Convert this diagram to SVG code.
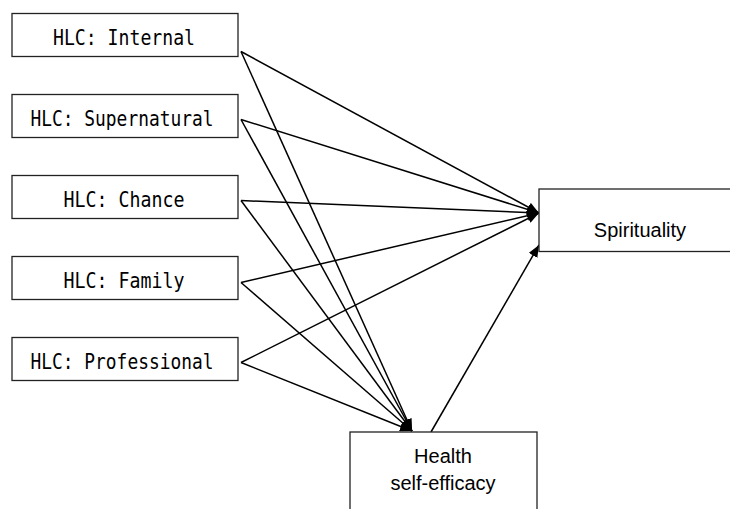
<svg xmlns="http://www.w3.org/2000/svg" width="730" height="509" viewBox="0 0 730 509">
<defs>
<marker id="ah" viewBox="0 0 12 10" refX="12" refY="5" markerWidth="12" markerHeight="10" markerUnits="userSpaceOnUse" orient="auto">
<path d="M0,0 L12,5 L0,10 z" fill="#000"/>
</marker>
<style>
.box{fill:#fff;stroke:#222;stroke-width:1.3}
.hlc{font-family:"DejaVu Sans Mono","Liberation Mono",monospace;font-size:22px;fill:#000;text-anchor:middle}
.lbl{font-family:"Liberation Sans",Arial,sans-serif;font-size:20px;fill:#000;text-anchor:middle}
.edge{stroke:#000;stroke-width:1.5;fill:none;marker-end:url(#ah)}
</style>
</defs>
<rect width="730" height="509" fill="#fff"/>
<g id="edges">
<line class="edge" x1="241" y1="51.5" x2="539" y2="213"/>
<line class="edge" x1="241" y1="51.5" x2="412" y2="431"/>
<line class="edge" x1="241" y1="119.5" x2="539" y2="213"/>
<line class="edge" x1="241" y1="119.5" x2="412" y2="431"/>
<line class="edge" x1="241" y1="200.5" x2="539" y2="213"/>
<line class="edge" x1="241" y1="200.5" x2="412" y2="431"/>
<line class="edge" x1="241" y1="282.5" x2="539" y2="213"/>
<line class="edge" x1="241" y1="282.5" x2="412" y2="431"/>
<line class="edge" x1="241" y1="362.5" x2="539" y2="213"/>
<line class="edge" x1="241" y1="362.5" x2="412" y2="431"/>
<line class="edge" x1="431" y1="432" x2="539" y2="245"/>
</g>
<g id="hlc-internal">
<rect class="box" x="12" y="13.5" width="226" height="43"/>
<text class="hlc" x="124" y="44.5" textLength="142" lengthAdjust="spacingAndGlyphs">HLC: Internal</text>
</g>
<g id="hlc-supernatural">
<rect class="box" x="12" y="94.5" width="226" height="43"/>
<text class="hlc" x="122" y="125.5" textLength="183" lengthAdjust="spacingAndGlyphs">HLC: Supernatural</text>
</g>
<g id="hlc-chance">
<rect class="box" x="12" y="175.5" width="226" height="43"/>
<text class="hlc" x="124" y="206.5" textLength="121" lengthAdjust="spacingAndGlyphs">HLC: Chance</text>
</g>
<g id="hlc-family">
<rect class="box" x="12" y="256.5" width="226" height="43"/>
<text class="hlc" x="124" y="287.5" textLength="121" lengthAdjust="spacingAndGlyphs">HLC: Family</text>
</g>
<g id="hlc-professional">
<rect class="box" x="12" y="337.5" width="226" height="43"/>
<text class="hlc" x="122" y="368.5" textLength="183" lengthAdjust="spacingAndGlyphs">HLC: Professional</text>
</g>
<g id="spirituality">
<rect class="box" x="539" y="189" width="220" height="62.5"/>
<text class="lbl" x="640" y="237">Spirituality</text>
</g>
<g id="health-self-efficacy">
<rect class="box" x="350" y="432" width="187" height="100"/>
<text class="lbl" x="443" y="463">Health</text>
<text class="lbl" x="443" y="490">self-efficacy</text>
</g>
</svg>
